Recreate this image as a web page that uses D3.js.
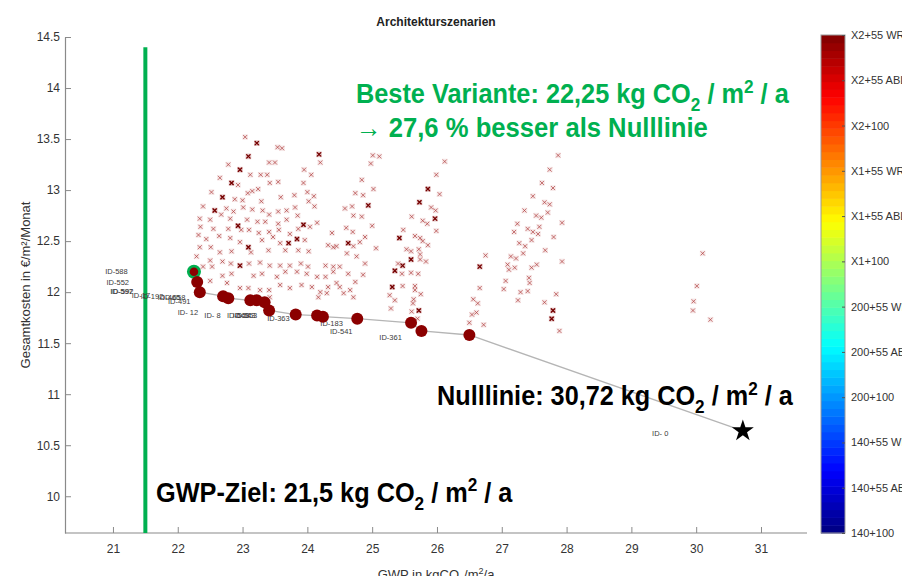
<!DOCTYPE html>
<html><head><meta charset="utf-8">
<script src="https://cdn.jsdelivr.net/npm/d3@7"></script>
<style>
html,body{margin:0;padding:0;background:#fff;}
svg{display:block;font-family:"Liberation Sans",Arial,sans-serif;}
</style></head>
<body>
<svg id="chart" width="902" height="576"></svg>
<script>
// ---------- DATA ----------
const chartTitle = "Architekturszenarien";
const xTicks = [21,22,23,24,25,26,27,28,29,30,31];
const yTicks = [10,10.5,11,11.5,12,12.5,13,13.5,14,14.5];
const colorbarLabels = ["X2+55 WRG","X2+55 ABL","X2+100","X1+55 WRG","X1+55 ABL","X1+100",
  "200+55 WRG","200+55 ABL","200+100","140+55 WRG","140+55 ABL","140+100"];
const gwpTarget = 21.5;
const bestVariant = [22.25, 12.20];
const nullLine = [30.72, 10.64];
// Pareto front (GWP, cost)
const paretoGWP  = [22.25,22.30,22.34,22.70,22.78,23.12,23.22,23.34,23.41,23.82,24.15,24.24,24.77,25.60,25.76,26.50];
const paretoCost = [12.20,12.10,12.00,11.96,11.94,11.92,11.92,11.90,11.82,11.78,11.77,11.76,11.74,11.70,11.62,11.58];
// Point labels [gwp, cost, text]
const pointLabels = [
  [20.88,12.18,"ID-588"],[20.90,12.07,"ID-552"],[20.96,11.98,"ID-597"],[20.97,11.98,"ID-592"],
  [21.29,11.94,"ID-17"],[21.43,11.93,"ID-192"],[21.69,11.92,"ID-465"],[21.77,11.92,"ID-658"],
  [21.85,11.88,"ID-491"],[22.00,11.78,"ID- 12"],[22.41,11.75,"ID- 8"],[22.76,11.75,"ID-563"],
  [22.85,11.75,"ID-543"],[22.88,11.75,"ID-553"],[23.38,11.72,"ID-363"],[24.20,11.67,"ID-183"],
  [24.35,11.59,"ID-541"],[25.11,11.53,"ID-361"],[29.32,10.59,"ID- 0"]
];
// All other variants (GWP, cost)
const variants = [
 [27.87,13.34],[27.74,13.20],[27.62,13.07],[27.79,13.02],[27.48,12.94],[27.66,12.88],[27.74,12.86],[27.35,12.80],
 [27.53,12.75],[27.61,12.73],[27.71,12.78],[27.24,12.67],[27.93,12.68],[27.40,12.62],[27.48,12.59],[27.56,12.57],
 [27.58,12.64],[27.19,12.59],[27.46,12.51],[27.27,12.48],[27.36,12.45],[27.80,12.54],[27.67,12.41],[27.33,12.38],
 [27.14,12.35],[27.22,12.33],[27.09,12.27],[27.11,12.22],[27.20,12.24],[27.46,12.24],[27.54,12.27],[27.93,12.30],
 [26.75,12.36],[27.06,12.11],[27.42,12.14],[27.43,12.09],[27.03,12.03],[27.29,12.00],[27.40,12.01],[27.84,11.98],
 [27.25,11.92],[27.66,11.90],[27.79,11.82],[27.77,11.74],[27.89,11.62],[26.72,11.68],
 [30.10,12.38],[30.01,12.06],[29.96,11.91],[29.95,11.82],[30.22,11.73],
 [26.66,12.25],[26.66,12.04],[26.56,11.93],[26.63,11.89],[26.54,11.78],[26.61,11.80],[26.50,11.70],
 [25.11,13.33],[26.12,13.28],[25.99,13.15],[25.02,13.01],[25.86,13.01],[26.04,12.96],[25.73,12.88],[25.91,12.83],
 [25.98,12.80],[25.61,12.74],[25.97,12.72],[25.00,12.65],[25.78,12.70],[25.85,12.67],[25.48,12.61],[25.99,12.60],
 [25.42,12.53],[25.66,12.55],[25.74,12.53],[25.78,12.50],[25.86,12.46],[25.06,12.43],[25.53,12.42],[25.60,12.40],
 [25.72,12.42],[25.74,12.37],[25.74,12.32],[25.60,12.32],[25.83,12.30],[25.40,12.28],[25.47,12.26],[25.35,12.21],
 [25.46,12.18],[25.60,12.19],[25.71,12.18],[25.31,12.05],[25.47,12.06],[25.66,12.06],[25.66,12.02],[25.27,11.97],
 [25.35,11.92],[25.75,11.98],[25.64,11.93],[25.63,11.89],[25.29,11.84],[25.72,11.82],[25.61,11.81],[25.70,11.74],
 [24.98,13.26],[25.01,13.34],[24.84,13.10],[24.74,12.97],[24.86,12.95],[24.58,12.82],[24.69,12.84],[24.71,12.75],
 [24.84,12.74],[24.94,12.85],[24.38,12.58],[24.60,12.63],[24.70,12.59],[24.40,12.44],[24.63,12.48],[24.71,12.45],
 [24.81,12.49],[24.89,12.54],[24.61,12.38],[24.76,12.35],[24.89,12.28],[24.50,12.25],[24.63,12.18],[24.86,12.17],
 [24.74,12.10],[24.50,12.05],[24.66,12.02],[24.56,11.99],[24.71,11.95],
 [23.04,13.52],[23.22,13.46],[23.54,13.42],[23.61,13.41],[23.09,13.33],[22.78,13.25],[23.41,13.27],[23.50,13.27],
 [24.18,13.35],[24.20,13.27],[22.96,13.20],[23.12,13.15],[23.28,13.15],[23.38,13.15],[23.95,13.20],[23.94,13.07],
 [24.06,13.15],[22.65,13.12],[22.83,13.07],[22.93,13.05],[23.42,13.07],[23.55,13.08],[23.24,13.01],[23.15,12.99],
 [23.08,12.97],[22.52,12.98],[22.69,12.93],[22.88,12.91],[23.00,12.90],[23.29,12.89],[23.59,12.93],[23.80,12.95],
 [24.00,12.98],[24.10,12.94],[23.68,12.80],[23.81,12.83],[24.02,12.89],[24.11,12.84],[22.39,12.84],[22.57,12.80],
 [22.75,12.82],[22.86,12.79],[23.01,12.83],[23.15,12.81],[23.31,12.80],[23.41,12.76],[23.55,12.79],[22.67,12.76],
 [22.34,12.72],[22.50,12.71],[22.81,12.72],[22.93,12.65],[23.07,12.71],[23.23,12.69],[23.35,12.69],[23.55,12.67],
 [23.68,12.71],[23.85,12.75],[23.94,12.66],[24.15,12.68],[22.35,12.64],[22.55,12.62],[22.78,12.62],[22.98,12.61],
 [23.10,12.61],[23.25,12.58],[23.41,12.59],[23.56,12.61],[23.73,12.57],[23.86,12.62],[24.04,12.64],[22.32,12.56],
 [22.44,12.52],[22.64,12.55],[22.81,12.53],[22.96,12.49],[23.09,12.44],[23.30,12.51],[23.47,12.54],[23.58,12.48],
 [23.71,12.48],[23.84,12.52],[23.96,12.51],[22.34,12.44],[22.51,12.44],[22.65,12.39],[22.83,12.40],[23.13,12.39],
 [23.40,12.41],[23.66,12.41],[23.86,12.41],[24.02,12.40],[24.32,12.46],[24.45,12.45],[22.29,12.35],[22.50,12.31],
 [22.69,12.30],[22.82,12.28],[22.96,12.26],[23.10,12.28],[23.27,12.29],[23.42,12.26],[23.58,12.26],[23.73,12.26],
 [23.90,12.28],[24.01,12.25],[24.28,12.26],[24.40,12.25],[22.39,12.25],[22.53,12.25],[22.69,12.16],[22.83,12.18],
 [23.17,12.16],[23.30,12.18],[23.53,12.15],[23.66,12.20],[23.84,12.20],[23.99,12.18],[24.15,12.15],[24.28,12.15],
 [24.40,12.20],[22.50,12.11],[22.76,12.09],[22.96,12.04],[23.09,12.04],[23.27,12.02],[23.41,12.02],[23.58,12.07],
 [23.73,12.04],[23.91,12.07],[24.07,12.05],[24.20,12.00],[24.32,12.05],[24.45,12.09],[24.30,11.99],[24.17,11.95],
 [23.42,11.95]
];
// Variants drawn darker (overlapping duplicates)
const darkVariants = [
 [24.18,13.35],[23.22,13.46],[23.09,13.33],[22.96,13.20],[22.83,13.07],[22.69,12.93],[22.57,12.80],[22.93,12.65],
 [23.94,12.66],[23.09,12.44],[23.71,12.48],[23.84,12.52],[22.96,12.26],[27.79,11.82],[27.77,11.74],[25.73,12.88],
 [25.97,12.72],[25.42,12.53],[25.60,12.32],[25.35,12.21],[25.47,12.26],[25.31,12.05],[25.72,11.82],[26.66,12.25],
 [25.86,13.01],[24.94,12.85],[24.63,12.48]
];

// ---------- LAYOUT ----------
const svg = d3.select("#chart");
const plotL = 65, plotR = 807, plotT = 37, plotB = 533;
const x = d3.scaleLinear().domain([20.26, 31.71]).range([plotL, plotR]);
const y = d3.scaleLinear().domain([9.64, 14.5]).range([plotB, plotT]);
const darkRed = "#8b0000";
const green = "#00b050";

// title
svg.append("text").attr("x", (plotL+plotR)/2).attr("y", 26).attr("text-anchor","middle")
  .attr("font-size", 12).attr("font-weight","bold").attr("fill","#222").text(chartTitle);

// axes
const axisColor = "#8a8a8a";
const gx = svg.append("g").attr("transform", `translate(0,${plotB})`)
  .call(d3.axisBottom(x).tickValues(xTicks).tickSize(-6).tickSizeOuter(0).tickPadding(11).tickFormat(d3.format("d")));
const gy = svg.append("g").attr("transform", `translate(${plotL},0)`)
  .call(d3.axisLeft(y).tickValues(yTicks).tickSize(-6).tickSizeOuter(0).tickPadding(5).tickFormat(d => String(d)));
[gx, gy].forEach(g => {
  g.select(".domain").attr("stroke", axisColor).attr("stroke-width", 1.2);
  g.selectAll(".tick line").attr("stroke", axisColor);
  g.selectAll(".tick text").attr("fill","#333").attr("font-size",12).attr("font-family","Liberation Sans, Arial, sans-serif");
});
gx.select(".domain").attr("d", `M${plotL},0H${plotR}`);

// axis labels
svg.append("text").attr("transform", `translate(30,${(plotT+plotB)/2}) rotate(-90)`)
  .attr("text-anchor","middle").attr("font-size",13).attr("fill","#333").text("Gesamtkosten in €/m²/Monat");
const xl = svg.append("text").attr("x", 436).attr("y", 579).attr("text-anchor","middle")
  .attr("font-size",13).attr("fill","#333");
xl.append("tspan").text("GWP in kgCO");
xl.append("tspan").attr("font-size",9).attr("dy",3).text("2");
xl.append("tspan").attr("dy",-3).text("/m");
xl.append("tspan").attr("font-size",9).attr("dy",-5).text("2");
xl.append("tspan").attr("dy",5).text("/a");

// green target line
svg.append("line").attr("x1", x(gwpTarget)).attr("x2", x(gwpTarget))
  .attr("y1", y(14.4)).attr("y2", plotB).attr("stroke", green).attr("stroke-width", 4);

// variants
const vg = svg.append("g");
function drawCross(data, sq, st, sw) {
  const g = vg.append("g");
  g.selectAll("rect").data(data).join("rect")
    .attr("x", d => x(d[0]) - 2.8).attr("y", d => y(d[1]) - 2.8)
    .attr("width", 5.6).attr("height", 5.6).attr("fill", sq);
  g.selectAll("path").data(data).join("path")
    .attr("d", d => { const cx = x(d[0]), cy = y(d[1]);
      return `M${cx-2},${cy-2}L${cx+2},${cy+2}M${cx-2},${cy+2}L${cx+2},${cy-2}`; })
    .attr("stroke", st).attr("stroke-width", sw).attr("fill","none");
}
drawCross(variants, "rgba(210,140,140,0.2)", "rgba(175,60,60,0.7)", 1);
drawCross(darkVariants, "rgba(170,80,80,0.25)", "#740000", 1.3);

// pareto line
const paretoPts = paretoGWP.map((g,i) => [g, paretoCost[i]]);
const linePts = paretoPts.concat([nullLine]);
svg.append("path").datum(linePts)
  .attr("d", d3.line().x(d => x(d[0])).y(d => y(d[1])))
  .attr("fill","none").attr("stroke","#b5b5b5").attr("stroke-width",1.3);

// point labels
svg.append("g").selectAll("text").data(pointLabels).join("text")
  .attr("x", d => x(d[0])).attr("y", d => y(d[1]))
  .attr("font-size", 7.5).attr("fill","#3a3a3a").text(d => d[2]);

// best variant ring
svg.append("circle").attr("cx", x(bestVariant[0])).attr("cy", y(bestVariant[1]))
  .attr("r", 7).attr("fill", green);

// pareto points
svg.append("g").selectAll("circle").data(paretoPts).join("circle")
  .attr("cx", d => x(d[0])).attr("cy", d => y(d[1]))
  .attr("r", (d,i) => i === 0 ? 4.3 : 6).attr("fill", darkRed);

// star
svg.append("path").attr("transform", `translate(${x(nullLine[0])},${y(nullLine[1])})`)
  .attr("d", d3.symbol(d3.symbolStar, 150)()).attr("fill","#000");

// rich annotation texts
function richText(parts, lx, baseline, size, color, targetW) {
  const g = svg.append("g").attr("transform", `translate(${lx},${baseline})`);
  const t = g.append("text").attr("font-size", size).attr("font-weight","bold").attr("fill", color);
  let shift = 0;
  parts.forEach(p => {
    const ts = t.append("tspan").text(p.t);
    let target = 0, fs = size;
    if (p.sub) { target = size*0.28; fs = size*0.68; }
    if (p.sup) { target = -size*0.38; fs = size*0.68; }
    ts.attr("font-size", fs).attr("dy", target - shift);
    shift = target;
  });
  const w = t.node().getBBox().width;
  t.attr("transform", `scale(${targetW / w},1)`);
}
richText([{t:"Beste Variante: 22,25 kg CO"},{t:"2",sub:true},{t:" / m"},{t:"2",sup:true},{t:" / a"}],
  356, 103, 27, green, 434);
richText([{t:"→ 27,6 % besser als Nulllinie"}], 356, 137, 27, green, 352);
richText([{t:"Nulllinie: 30,72 kg CO"},{t:"2",sub:true},{t:" / m"},{t:"2",sup:true},{t:" / a"}],
  437, 405, 27, "#000", 357);
richText([{t:"GWP-Ziel: 21,5 kg CO"},{t:"2",sub:true},{t:" / m"},{t:"2",sup:true},{t:" / a"}],
  156, 502, 28, "#000", 357);

// colorbar (jet)
const cbX = 821, cbW = 24, cbTop = 35, cbBot = 533;
function jet(t) {
  const c = v => Math.max(0, Math.min(1, v));
  return d3.rgb(255*c(1.5-Math.abs(4*t-3)), 255*c(1.5-Math.abs(4*t-2)), 255*c(1.5-Math.abs(4*t-1)));
}
const nSteps = 64;
const cb = d3.scaleLinear().domain([0, nSteps]).range([cbBot, cbTop]);
svg.append("g").selectAll("rect").data(d3.range(nSteps)).join("rect")
  .attr("x", cbX).attr("width", cbW)
  .attr("y", i => cb(i+1)).attr("height", i => cb(i) - cb(i+1) + 0.5)
  .attr("fill", i => jet((i+0.5)/nSteps));
svg.append("rect").attr("x", cbX).attr("y", cbTop).attr("width", cbW).attr("height", cbBot-cbTop)
  .attr("fill","none").attr("stroke","#999").attr("stroke-width",1);
const cbScale = d3.scalePoint().domain(colorbarLabels).range([cbTop, cbBot]);
const cbAxis = svg.append("g").attr("transform", `translate(${cbX+cbW},0)`)
  .call(d3.axisRight(cbScale).tickSize(-3).tickPadding(6).tickSizeOuter(0));
cbAxis.select(".domain").remove();
cbAxis.selectAll(".tick line").attr("stroke","#555");
cbAxis.selectAll(".tick text").attr("font-size", 11).attr("fill","#333")
  .attr("font-family","Liberation Sans, Arial, sans-serif");
</script>
</body></html>
